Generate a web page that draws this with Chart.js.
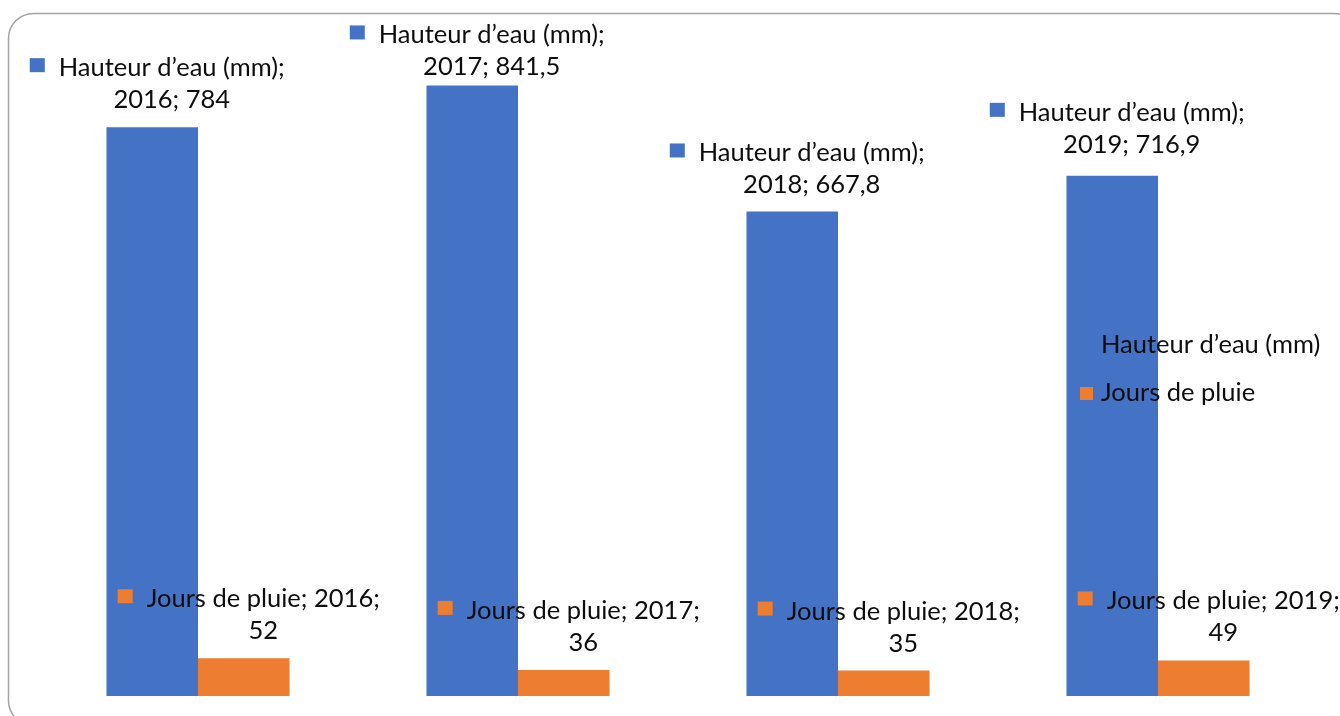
<!DOCTYPE html>
<html>
<head>
<meta charset="utf-8">
<script src="https://cdn.jsdelivr.net/npm/chart.js@4.4.0/dist/chart.umd.min.js"></script>
<style>
  html, body { margin: 0; padding: 0; background: #fff; overflow: hidden; }
  #wrap { width: 1340px; height: 716px; position: relative; }
</style>
</head>
<body>
<div id="wrap"><canvas id="chart" width="1340" height="716"></canvas></div>
<script>
const years = ["2016", "2017", "2018", "2019"];
const hauteurEau = [784, 841.5, 667.8, 716.9];
const joursPluie = [52, 36, 35, 49];
const seriesNames = ["Hauteur d’eau (mm)", "Jours de pluie"];
const seriesColors = ["#4472C4", "#ED7D31"];

const FONT = '25.5px "Lato"';
const TEXT_COLOR = "#0d0d0d";

// french decimal comma
const fmt = (v) => String(v).replace(".", ",");

function wrapWords(ctx, text, maxW) {
  const words = text.split(" ");
  const lines = [];
  let cur = "";
  words.forEach((w) => {
    const test = cur ? cur + " " + w : w;
    if (cur && ctx.measureText(test).width > maxW) {
      lines.push(cur);
      cur = w;
    } else {
      cur = test;
    }
  });
  if (cur) lines.push(cur);
  return lines;
}

// rounded frame around the whole chart (like the office chart border)
const framePlugin = {
  id: "frame",
  beforeDraw(chart) {
    const ctx = chart.ctx;
    const x = 8.5, y = 13.5, w = 1350, h = 712, r = 25;
    ctx.save();
    ctx.strokeStyle = "#a3a3a3";
    ctx.lineWidth = 1.5;
    ctx.beginPath();
    ctx.moveTo(x + r, y);
    ctx.lineTo(x + w - r, y);
    ctx.arcTo(x + w, y, x + w, y + r, r);
    ctx.lineTo(x + w, y + h - r);
    ctx.arcTo(x + w, y + h, x + w - r, y + h, r);
    ctx.lineTo(x + r, y + h);
    ctx.arcTo(x, y + h, x, y + h - r, r);
    ctx.lineTo(x, y + r);
    ctx.arcTo(x, y, x + r, y, r);
    ctx.closePath();
    ctx.stroke();
    ctx.restore();
  },
};

const labelPlugin = {
  id: "barLabels",
  afterDatasetsDraw(chart, args, opts) {
    const ctx = chart.ctx;
    ctx.save();
    ctx.font = FONT;
    ctx.textBaseline = "alphabetic";
    chart.data.datasets.forEach((ds, di) => {
      const meta = chart.getDatasetMeta(di);
      meta.data.forEach((bar, i) => {
        const text = `${ds.label}; ${years[i]}; ${fmt(ds.data[i])}`;
        const lines = wrapWords(ctx, text, 244);
        const w = Math.max(...lines.map((l) => ctx.measureText(l).width));
        const left = bar.x + 5 - (29 + w) / 2;
        const textCx = left + 29 + w / 2;
        const lift = (opts.lift[di] && opts.lift[di][i]) || 0;
        const lastBase = bar.y - 19 - lift;
        const firstBase = lastBase - (lines.length - 1) * 32;

        ctx.fillStyle = ds.backgroundColor;
        ctx.fillRect(left, firstBase - 18, 15, 14);

        ctx.fillStyle = TEXT_COLOR;
        ctx.textAlign = "center";
        lines.forEach((l, k) => ctx.fillText(l, textCx, firstBase + k * 32));
      });
    });

    // legend, drawn over the plot like the original
    const lx = chart.chartArea.right - 238;
    let ly = 353;
    ctx.textAlign = "left";
    chart.data.datasets.forEach((ds) => {
      ctx.fillStyle = ds.backgroundColor;
      ctx.fillRect(lx, ly - 14, 13, 13);
      ctx.fillStyle = TEXT_COLOR;
      ctx.fillText(ds.label, lx + 21, ly);
      ly += 48;
    });
    ctx.restore();
  },
};

new Chart(document.getElementById("chart"), {
  type: "bar",
  data: {
    labels: years,
    datasets: [
      { label: seriesNames[0], data: hauteurEau, backgroundColor: seriesColors[0] },
      { label: seriesNames[1], data: joursPluie, backgroundColor: seriesColors[1] },
    ],
  },
  options: {
    responsive: false,
    animation: false,
    layout: { padding: { left: 38, right: 22, top: 43, bottom: 20 } },
    datasets: {
      bar: { categoryPercentage: 0.572, barPercentage: 1.0, borderWidth: 0 },
    },
    scales: {
      x: { display: false },
      y: { display: false, min: 0, max: 900 },
    },
    plugins: {
      legend: { display: false },
      tooltip: { enabled: false },
      barLabels: { lift: [[0, -9, -1, 4], [0, 0, 0, 0]] },
    },
  },
  plugins: [framePlugin, labelPlugin],
});
</script>
</body>
</html>
